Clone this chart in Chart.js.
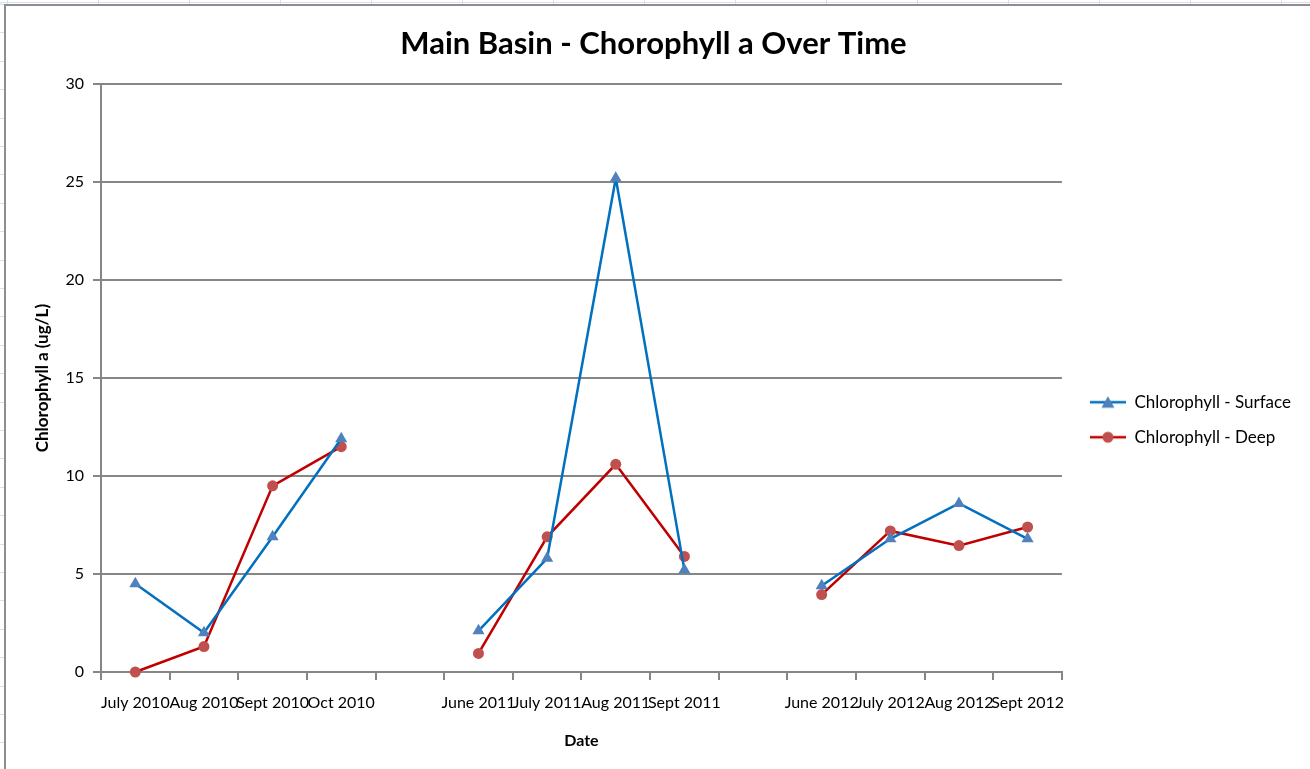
<!DOCTYPE html>
<html>
<head>
<meta charset="utf-8">
<script src="https://cdn.jsdelivr.net/npm/chart.js@4/dist/chart.umd.min.js"></script>
<style>
  html, body { margin: 0; padding: 0; }
  body {
    width: 1310px; height: 769px; overflow: hidden; position: relative;
    background-color: #fff;
    /* spreadsheet cells behind the chart */
    background-image:
      repeating-linear-gradient(to right, transparent 0, transparent 7px, #d6dfec 7px, #d6dfec 8px, transparent 8px, transparent 91px),
      repeating-linear-gradient(to bottom, #d6dfec 0, #d6dfec 1px, transparent 1px, transparent 28.4px);
    background-position: 0 0, 0 4px;
  }
  #frame {
    position: absolute; left: 4px; top: 4px; width: 1310px; height: 769px;
    border-left: 2px solid #8e8e8e; border-top: 2px solid #8e8e8e;
    background: #fff;
  }
  #wrap { position: absolute; left: 0; top: 0; width: 1304px; height: 763px; }
</style>
</head>
<body>
<div id="frame"><div id="wrap"><canvas id="chart"></canvas></div></div>
<script>
// categories (blank ones are the gaps between seasons)
const months = ['July 2010', 'Aug 2010', 'Sept 2010', 'Oct 2010', '',
  'June 2011', 'July 2011', 'Aug 2011', 'Sept 2011', '',
  'June 2012', 'July 2012', 'Aug 2012', 'Sept 2012'];

// chlorophyll a, ug/L
const surface = [4.5, 2.0, 6.9, 11.9, null, 2.1, 5.8, 25.2, 5.2, null, 4.4, 6.8, 8.6, 6.8];
const deep = [0, 1.3, 9.5, 11.5, null, 0.95, 6.9, 10.6, 5.9, null, 3.95, 7.2, 6.45, 7.4];

const yTicks = [0, 5, 10, 15, 20, 25, 30];

const FONT = 'Lato, "Open Sans", sans-serif';
const GRID = '#868686';

// line + marker sample for the legend, like excel draws it
// (10px blank on the left keeps the legend away from the plot)
function legendIcon(lineColor, markColor, shape) {
  const c = document.createElement('canvas');
  c.width = 46; c.height = 14;
  const g = c.getContext('2d');
  g.strokeStyle = lineColor; g.lineWidth = 2.5;
  g.beginPath(); g.moveTo(10, 7); g.lineTo(46, 7); g.stroke();
  g.fillStyle = markColor;
  g.beginPath();
  if (shape === 'triangle') {
    g.moveTo(28, 1); g.lineTo(34.5, 12.5); g.lineTo(21.5, 12.5);
  } else {
    g.arc(28, 7, 5.5, 0, Math.PI * 2);
  }
  g.fill();
  return c;
}

const ctx = document.getElementById('chart').getContext('2d');
new Chart(ctx, {
  type: 'line',
  data: {
    labels: months,
    datasets: [{
      label: 'Chlorophyll - Surface',
      data: surface,
      borderColor: '#0070c0',
      backgroundColor: '#4f81bd',
      borderWidth: 2.5,
      pointStyle: 'triangle',
      pointRadius: 7,
      pointHoverRadius: 7,
      pointBorderWidth: 0,
      pointBackgroundColor: '#4f81bd',
      tension: 0,
      spanGaps: false,
      clip: false
    }, {
      label: 'Chlorophyll - Deep',
      data: deep,
      borderColor: '#c00000',
      backgroundColor: '#c0504d',
      borderWidth: 2.5,
      pointStyle: 'circle',
      pointRadius: 5.5,
      pointHoverRadius: 5.5,
      pointBorderWidth: 0,
      pointBackgroundColor: '#c0504d',
      tension: 0,
      spanGaps: false,
      clip: false
    }]
  },
  options: {
    responsive: true,
    maintainAspectRatio: false,
    animation: false,
    layout: { padding: { right: 9 } },
    plugins: {
      title: {
        display: true,
        text: 'Main Basin - Chorophyll a Over Time',
        color: '#000',
        font: { family: FONT, size: 31, weight: 'bold' },
        padding: { top: 19, bottom: 22 }
      },
      legend: {
        position: 'right',
        title: { display: true, text: '', padding: { top: 50, bottom: 0 } },
        labels: {
          usePointStyle: true,
          pointStyleWidth: 46,
          color: '#000',
          padding: 18,
          font: { family: FONT, size: 17 },
          generateLabels(chart) {
            const icons = [
              legendIcon('#0070c0', '#4f81bd', 'triangle'),
              legendIcon('#c00000', '#c0504d', 'circle')
            ];
            return chart.data.datasets.map((ds, i) => ({
              text: ds.label,
              pointStyle: icons[i],
              fillStyle: ds.backgroundColor,
              strokeStyle: ds.borderColor,
              lineWidth: 0,
              fontColor: '#000',
              datasetIndex: i
            }));
          }
        }
      },
      tooltip: { enabled: false }
    },
    scales: {
      x: {
        offset: true,
        grid: { offset: true, drawOnChartArea: false, drawTicks: true, tickLength: 8, color: GRID, lineWidth: 2 },
        border: { color: GRID, width: 2 },
        ticks: {
          autoSkip: false, maxRotation: 0, minRotation: 0, padding: 13,
          color: '#000', font: { family: FONT, size: 16 }
        },
        title: {
          display: true, text: 'Date', color: '#000',
          font: { family: FONT, size: 16, weight: 'bold' },
          padding: { top: 0, bottom: 19 }
        },
        afterFit(scale) { scale.height = 97; }
      },
      y: {
        min: 0,
        max: 30,
        afterBuildTicks(scale) { scale.ticks = yTicks.map(v => ({ value: v })); },
        grid: { color: GRID, lineWidth: 2, tickLength: 8 },
        border: { color: GRID, width: 2 },
        ticks: { padding: 9, color: '#000', font: { family: FONT, size: 16 } },
        title: {
          display: true, text: 'Chlorophyll a (ug/L)', color: '#000',
          font: { family: FONT, size: 17, weight: 'bold' },
          padding: { top: 26, bottom: 0 }
        },
        afterFit(scale) { scale.width = 95; }
      }
    }
  }
});
</script>
</body>
</html>
